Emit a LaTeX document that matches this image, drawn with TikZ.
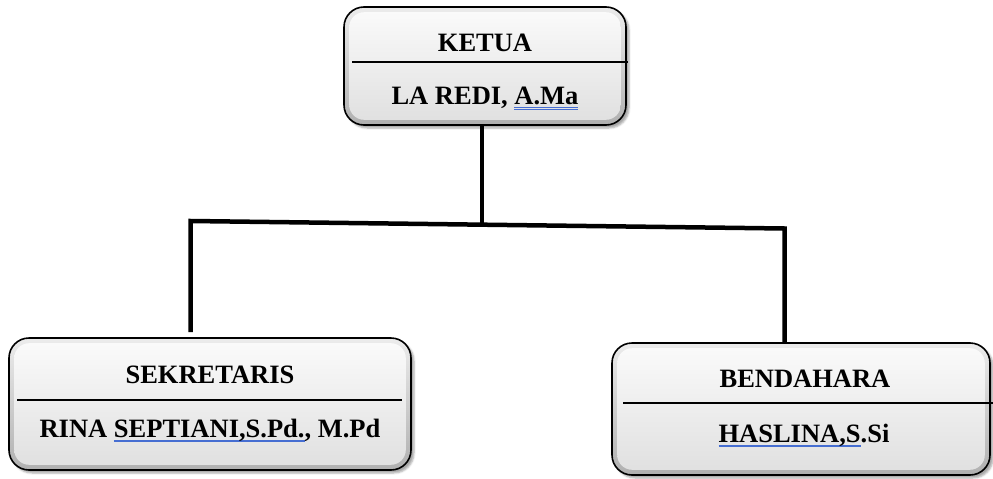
\documentclass[tikz,border=0pt]{standalone}
\usepackage{fontspec}
\setmainfont{Liberation Serif}
\usetikzlibrary{shadows.blur,calc}
\definecolor{ulblue}{RGB}{70,110,210}
\newcommand\blueul[1]{\setbox0\hbox{#1}\rlap{\color{ulblue}\rule[-4.8pt]{\wd0}{1.8pt}}\box0}
\newcommand\blueuld[1]{\setbox0\hbox{#1}\rlap{\color{ulblue}\rule[-3.8pt]{\wd0}{1.1pt}}\rlap{\color{ulblue}\rule[-6.4pt]{\wd0}{1.1pt}}\box0}
\begin{document}
\begin{tikzpicture}[x=1pt,y=-1pt,
  box/.style={shape=rectangle, rounded corners=20pt, draw=black, line width=1.6pt,
    top color=gray!15, bottom color=gray!62, inner sep=0pt,
    blur shadow={shadow xshift=3pt, shadow yshift=-3pt, shadow opacity=35}},
  innerfill/.style={rounded corners=15pt, top color=gray!4, bottom color=gray!24},
  divider/.style={line width=1.5pt, draw=black},
  lbl/.style={font=\fontsize{26.5}{31}\selectfont\bfseries, inner sep=0pt, anchor=base},
  conn/.style={line width=4.5pt, line join=miter, draw=black}]
\useasboundingbox (0,0) rectangle (993,479);
% boxes
\node[box, minimum width=282pt, minimum height=118pt] (ketua) at (485,66) {};
\node[box, minimum width=402pt, minimum height=132pt] (sek) at (210,404) {};
\node[box, minimum width=378pt, minimum height=132pt] (bend) at (801,409) {};
\foreach \b in {ketua,sek,bend}
  \path[innerfill] ([shift={(6pt,-6pt)}]\b.north west) rectangle ([shift={(-6pt,6pt)}]\b.south east);
% dividers
\draw[divider] (352,62) -- (628,62);
\draw[divider] (17,400) -- (402,400);
\draw[divider] (623,403) -- (993,403);
% texts
\node[lbl] (t1) at (485,51) {KETUA};
\node[lbl] (n1) at (485,104) {LA REDI, \blueuld{A.Ma}};
\node[lbl] (t2) at (210,383) {SEKRETARIS};
\node[lbl] (n2) at (210,437) {RINA \blueul{SEPTIANI,S.Pd.}, M.Pd};
\node[lbl] (t3) at (805,387) {BENDAHARA};
\node[lbl] (n3) at (804,442) {\blueul{HASLINA,S}.Si};
% connectors
\coordinate (lt) at (190.5,221);
\coordinate (rt) at (784.5,228.5);
\coordinate (lb) at (190.5,332);
\coordinate (mid) at (482,224.7);
\draw[conn] (lb) -- (lt) -- (rt) -- (rt |- bend.north);
\draw[conn] (mid |- ketua.south) -- (mid);
\end{tikzpicture}
\end{document}
